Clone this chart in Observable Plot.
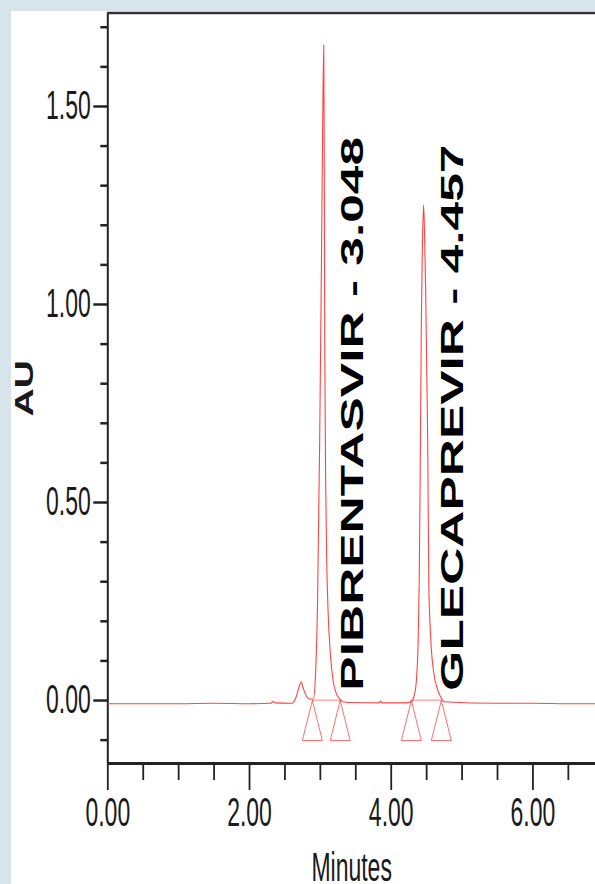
<!DOCTYPE html>
<html>
<head>
<meta charset="utf-8">
<script src="https://cdn.jsdelivr.net/npm/d3@7"></script>
<script src="https://cdn.jsdelivr.net/npm/@observablehq/plot@0.6"></script>
<style>
  html, body { margin: 0; padding: 0; background: #d7e4ec; width: 595px; height: 884px; overflow: hidden; }
  #chart { position: absolute; left: 11px; top: 11px; width: 584px; height: 873px; background: #ffffff; }
</style>
</head>
<body>
<div id="chart"></div>
<script>
// ---- data ----
const times = [0.00, 0.50, 1.00, 1.50, 2.00, 2.30, 2.33, 2.36, 2.60, 2.65, 2.70, 2.73, 2.76, 2.80, 2.85, 2.90,
  2.93, 2.96, 2.99, 3.015, 3.035, 3.048, 3.055, 3.062, 3.075, 3.09, 3.11, 3.14, 3.18, 3.22, 3.27, 3.32,
  3.40, 3.83, 3.85, 3.87, 4.20, 4.28, 4.32, 4.35, 4.38, 4.395, 4.41, 4.425, 4.44, 4.457, 4.47, 4.485,
  4.50, 4.515, 4.53, 4.56, 4.60, 4.65, 4.70, 4.75, 5.50, 6.00, 6.50, 6.883];
const absorbance = [-0.008, -0.008, -0.008, -0.007, -0.008, -0.007, -0.002, -0.006, -0.007, 0.005, 0.035, 0.047, 0.030, 0.012, 0.004, 0.004,
  0.060, 0.250, 0.650, 1.100, 1.500, 1.655, 1.350, 0.900, 0.550, 0.350, 0.220, 0.120, 0.050, 0.020, 0.005, -0.003,
  -0.005, -0.006, -0.001, -0.006, -0.006, -0.003, 0.010, 0.040, 0.150, 0.300, 0.600, 0.950, 1.150, 1.252, 1.180, 1.050,
  0.850, 0.650, 0.300, 0.150, 0.070, 0.030, 0.008, -0.003, -0.007, -0.007, -0.008, -0.008];
const peakNames = ["PIBRENTASVIR", "GLECAPREVIR"];
const retentionTimes = [3.048, 4.457];
const markerTimes = [2.887, 3.280, 4.284, 4.707];
const xTickValues = [0, 2, 4, 6];
const xMinorTicks = [0.5, 1, 1.5, 2.5, 3, 3.5, 4.5, 5, 5.5, 6.5];
const yTickValues = [0, 0.5, 1.0, 1.5];
const yMinorTicks = [-0.1, 0.1, 0.2, 0.3, 0.4, 0.6, 0.7, 0.8, 0.9, 1.1, 1.2, 1.3, 1.4, 1.6, 1.7];
const xLabel = "Minutes";
const yLabel = "AU";

// ---- derived tables ----
const xDomain = [0, 6.883];
const yDomain = [-0.159, 1.736];
const trace = times.map((t, i) => ({ t, v: absorbance[i] }));
const hw = 0.141, apexV = 0.0, baseV = -0.101;
const triangles = markerTimes.flatMap((t, k) =>
  [[t, apexV], [t - hw, baseV], [t + hw, baseV], [t, apexV]].map(([x, y]) => ({ x, y, k })));
const intBase = [
  { x1: markerTimes[0], x2: markerTimes[1] },
  { x1: markerTimes[2], x2: markerTimes[3] }
];
const peakLabels = peakNames.map((n, i) => ({ t: retentionTimes[i], y: 0.025, text: `${n} - ${retentionTimes[i].toFixed(3)}` }));

const red = "#ff3030";
const ink = "#1a1a1a";

const plot = Plot.plot({
  width: 584,
  height: 873,
  marginLeft: 96.3,
  marginRight: 0,
  marginTop: 1.5,
  marginBottom: 121,
  x: { domain: xDomain, label: null },
  y: { domain: yDomain, label: null },
  style: { fontFamily: "'Liberation Sans', Arial, sans-serif", fontSize: "23px", background: "#ffffff", color: ink, overflow: "visible" },
  marks: [
    // minor / major ticks
    Plot.axisY({ ticks: yMinorTicks, tickSize: 7, tickFormat: () => "", strokeWidth: 2.5, stroke: "#222", label: null }),
    Plot.axisY({ ticks: yTickValues, tickSize: 14, tickPadding: 3, tickFormat: d => d.toFixed(2), strokeWidth: 2.5, stroke: "#222", fill: ink, label: null }),
    Plot.axisX({ ticks: xMinorTicks, tickSize: 17, tickFormat: () => "", strokeWidth: 1.8, stroke: "#222", label: null }),
    Plot.axisX({ ticks: xTickValues, tickSize: 27, tickPadding: 7, tickFormat: d => d.toFixed(2), strokeWidth: 1.8, stroke: "#222", fill: ink, label: null }),
    // frame lines
    Plot.ruleX([xDomain[0]], { stroke: "#222", strokeWidth: 2 }),
    Plot.ruleY([yDomain[0]], { stroke: "#222", strokeWidth: 3 }),
    Plot.ruleY([yDomain[1]], { stroke: "#333", strokeWidth: 2.5 }),
    // integration markers
    Plot.line(triangles, { x: "x", y: "y", z: "k", stroke: red, strokeWidth: 1, strokeOpacity: 0.7 }),
    Plot.link(intBase, { x1: "x1", x2: "x2", y1: () => 0.001, y2: () => 0.001, stroke: red, strokeWidth: 1, strokeOpacity: 0.6 }),
    // chromatogram
    Plot.line(trace, { x: "t", y: "v", stroke: red, strokeWidth: 1.1, strokeOpacity: 0.9, curve: "monotone-x" }),
    // peak labels
    Plot.text(peakLabels, { x: "t", y: "y", text: "text", rotate: -90, textAnchor: "start", lineAnchor: "bottom", dx: 39.5, fontWeight: "bold", fontSize: 31, fill: "#000" }),
    // axis titles
    Plot.text([yLabel], { frameAnchor: "left", rotate: -90, textAnchor: "middle", lineAnchor: "bottom", dx: -75.3, fontWeight: "bold", fontSize: 26, fill: ink }),
    Plot.text([xLabel], { frameAnchor: "bottom", textAnchor: "middle", lineAnchor: "top", dy: 89, fontSize: 23, fill: ink })
  ]
});

// The reference image is stretched vertically: reproduce that on the texts.
d3.select(plot).selectAll("text").each(function () {
  const s = this.textContent;
  let sc = null;
  if (/^-?\d+\.\d\d$/.test(s) || s === xLabel) sc = [1, 1.75];
  else if (s === yLabel) sc = [1.5, 1];
  else if (s.includes(" - ")) sc = [1.66, 1];
  if (!sc) return;
  const tr = this.getAttribute("transform");
  if (tr) {
    this.setAttribute("transform", `${tr} scale(${sc[0]},${sc[1]})`);
  } else {
    const x = parseFloat(this.getAttribute("x")) || 0;
    const y = parseFloat(this.getAttribute("y")) || 0;
    this.setAttribute("transform", `translate(${x},${y}) scale(${sc[0]},${sc[1]}) translate(${-x},${-y})`);
  }
});

document.getElementById("chart").appendChild(plot);
</script>
</body>
</html>
